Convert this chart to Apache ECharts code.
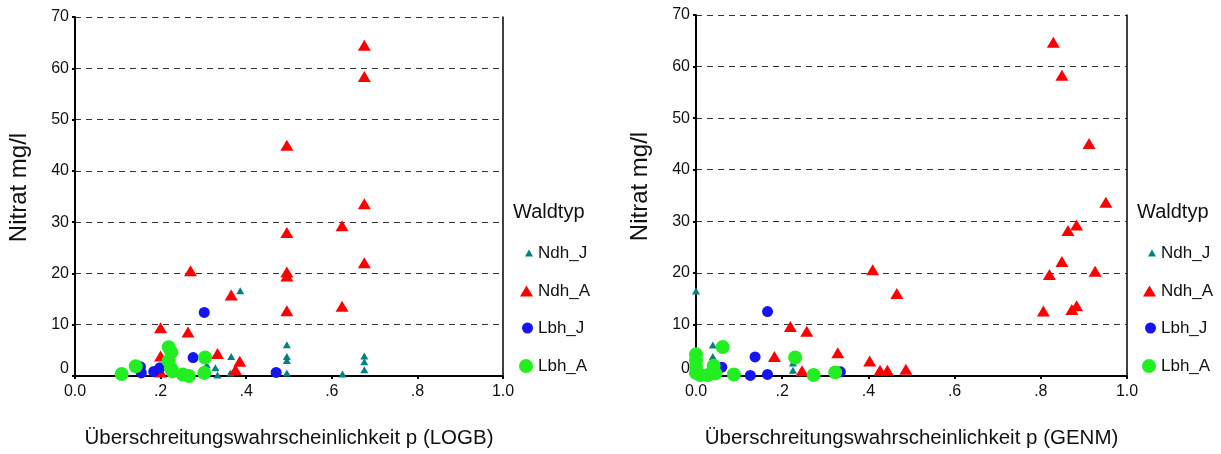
<!DOCTYPE html>
<html>
<head>
<meta charset="utf-8">
<script src="https://cdn.jsdelivr.net/npm/echarts@6/dist/echarts.min.js"></script>
<style>
html,body{margin:0;padding:0;background:#fff;}
#c{width:1221px;height:454px;}
</style>
</head>
<body>
<div id="c"></div>
<script>
// ---- data: [p, Nitrat mg/l] ----
const logbNdhJ = [[0.308,2.2],[0.328,1.6],[0.333,0.2],[0.363,0.6],[0.365,3.8],[0.386,16.6],[0.495,6.1],[0.495,3.8],[0.495,3.0],[0.495,0.6],[0.625,0.4],[0.676,3.9],[0.676,2.8],[0.676,1.2]];
const logbNdhA = [[0.2,9.4],[0.2,3.9],[0.2,0.8],[0.264,8.6],[0.27,20.5],[0.333,4.4],[0.365,15.8],[0.375,1.2],[0.385,2.9],[0.495,45.0],[0.495,28.0],[0.495,20.3],[0.495,19.5],[0.495,12.7],[0.624,29.3],[0.624,13.6],[0.676,64.5],[0.676,58.4],[0.676,33.6],[0.676,22.1]];
const logbLbhJ = [[0.153,1.8],[0.155,0.6],[0.184,0.9],[0.198,1.6],[0.276,3.6],[0.302,12.4],[0.47,0.7]];
const logbLbhA = [[0.109,0.4],[0.142,1.9],[0.219,5.6],[0.225,4.6],[0.219,2.9],[0.224,1.5],[0.228,0.9],[0.252,0.3],[0.266,0.0],[0.304,3.6],[0.302,0.6]];

const genmNdhJ = [[0.0,16.5],[0.0,3.0],[0.0,1.5],[0.01,0.5],[0.03,0.8],[0.039,6.0],[0.039,3.8],[0.039,2.8],[0.225,2.5],[0.225,1.1]];
const genmNdhA = [[0.182,3.8],[0.219,9.6],[0.246,1.0],[0.257,8.7],[0.329,4.5],[0.403,2.9],[0.41,20.6],[0.427,1.1],[0.444,1.1],[0.466,16.0],[0.487,1.3],[0.806,12.6],[0.82,19.7],[0.829,64.7],[0.849,58.3],[0.849,22.2],[0.863,28.2],[0.872,12.9],[0.883,13.6],[0.883,29.3],[0.912,45.1],[0.926,20.3],[0.951,33.7]];
const genmLbhJ = [[0.04,0.4],[0.06,1.7],[0.126,0.1],[0.137,3.7],[0.166,0.3],[0.166,12.5],[0.335,0.8]];
const genmLbhA = [[0.0,4.2],[0.0,3.0],[0.0,1.8],[0.0,0.6],[0.01,0.2],[0.028,0.2],[0.041,2.0],[0.045,0.5],[0.062,5.6],[0.088,0.3],[0.23,3.6],[0.273,0.2],[0.323,0.7]];

const seriesNames = ['Ndh_J','Ndh_A','Lbh_J','Lbh_A'];
const xTicks = ['0.0','.2','.4','.6','.8','1.0'];
const yTicks = [0,10,20,30,40,50,60,70];
const xTitles = ['Überschreitungswahrscheinlichkeit p (LOGB)','Überschreitungswahrscheinlichkeit p (GENM)'];
const yTitle = 'Nitrat mg/l';
const legendTitle = 'Waldtyp';

const FONT = '"Liberation Sans", Arial, sans-serif';
const styles = {
  Ndh_J: {symbol:'triangle', size:[8,7], color:'#008080'},
  Ndh_A: {symbol:'triangle', size:[13,11], color:'#ff0000'},
  Lbh_J: {symbol:'circle', size:11, color:'#1515f0'},
  Lbh_A: {symbol:'circle', size:14, color:'#22ee22'}
};

const grids = [
  {left:75, top:17, width:428, height:360},
  {left:696, top:15, width:431, height:364}
];

function xAxisFor(i){
  return {
    type:'value', gridIndex:i, min:0, max:1, interval:0.2,
    name:xTitles[i], nameLocation:'middle', nameGap:52,
    nameTextStyle:{fontFamily:FONT, fontSize:20.5, color:'#111'},
    axisLine:{show:true, onZero:false, lineStyle:{color:'#000', width:2}},
    axisTick:{show:true, length:3, lineStyle:{color:'#000', width:2}},
    axisLabel:{fontFamily:FONT, fontSize:16, color:'#111', margin:8,
      formatter:(v)=>xTicks[Math.round(v*5)]},
    splitLine:{show:false}
  };
}
function yAxisFor(i){
  return {
    type:'value', gridIndex:i, min:0, max:70, interval:10,
    name:yTitle, nameLocation:'middle', nameGap:44,
    nameTextStyle:{fontFamily:FONT, fontSize:24, color:'#111', padding:[0,0,0,18]},
    axisLine:{show:true, onZero:false, lineStyle:{color:'#000', width:2}},
    axisTick:{show:true, length:3, lineStyle:{color:'#000', width:2}},
    axisLabel:{fontFamily:FONT, fontSize:16, color:'#111', margin:6,
      formatter:(v)=> v===yTicks[0] ? '{z|'+v+'}' : String(v),
      rich:{z:{fontFamily:FONT, fontSize:16, color:'#111', padding:[0,0,14,0]}}},
    splitLine:{show:true, lineStyle:{color:'#333', type:[6,5], width:1}}
  };
}
function rightBorder(i){
  return {
    type:'value', gridIndex:i, min:0, max:70, position:'right',
    axisLine:{show:true, onZero:false, lineStyle:{color:'#000', width:1.5}},
    axisTick:{show:false}, axisLabel:{show:false}, splitLine:{show:false}
  };
}

const dataSets = [[logbNdhJ,logbNdhA,logbLbhJ,logbLbhA],[genmNdhJ,genmNdhA,genmLbhJ,genmLbhA]];
const series = [];
dataSets.forEach((sets,gi)=>{
  sets.forEach((d,k)=>{
    const st = styles[seriesNames[k]];
    series.push({
      type:'scatter', name:seriesNames[k], xAxisIndex:gi, yAxisIndex:gi*2,
      data:d, symbol:st.symbol, symbolSize:st.size, clip:false,
      itemStyle:{color:st.color, opacity:1}, emphasis:{disabled:true}
    });
  });
});

// legends: one per item so each marker has its own size
const legendRows = [253,291,328,366];
const legendTextX = [538,1161];
const legends = [];
[0,1].forEach(gi=>{
  seriesNames.forEach((n,k)=>{
    const st = styles[n];
    const w = Array.isArray(st.size)?st.size[0]:st.size;
    const h = Array.isArray(st.size)?st.size[1]:st.size;
    legends.push({
      data:[n], orient:'vertical', left:legendTextX[gi]-5-w, top:legendRows[k]-10,
      itemWidth:w, itemHeight:h, padding:0, selectedMode:false,
      textStyle:{fontFamily:FONT, fontSize:17, color:'#111', lineHeight:20}
    });
  });
});

const option = {
  animation:false,
  backgroundColor:'#fff',
  title:[
    {text:legendTitle, left:513, top:202, padding:0, textStyle:{fontFamily:FONT, fontSize:20, fontWeight:'normal', color:'#111'}},
    {text:legendTitle, left:1137, top:202, padding:0, textStyle:{fontFamily:FONT, fontSize:20, fontWeight:'normal', color:'#111'}}
  ],
  legend:legends,
  grid:grids,
  xAxis:[xAxisFor(0), xAxisFor(1)],
  yAxis:[yAxisFor(0), rightBorder(0), yAxisFor(1), rightBorder(1)],
  series:series
};
const chart = echarts.init(document.getElementById('c'), null, {renderer:'canvas'});
chart.setOption(option);
</script>
</body>
</html>
